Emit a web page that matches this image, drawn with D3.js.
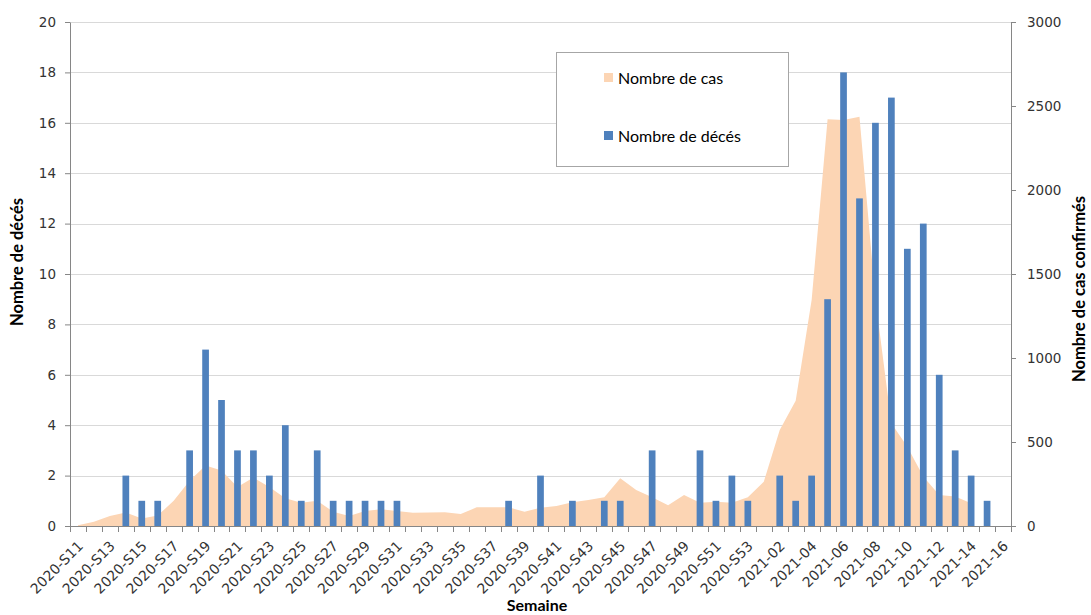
<!DOCTYPE html>
<html>
<head>
<meta charset="utf-8">
<script src="https://cdn.jsdelivr.net/npm/d3@7"></script>
<style>
  html, body { margin: 0; padding: 0; background: #fff; }
  svg { display: block; }
</style>
</head>
<body>
<svg id="chart" width="1091" height="615"></svg>
<script>
const weeks = [
  "2020-S11","2020-S12","2020-S13","2020-S14","2020-S15","2020-S16","2020-S17","2020-S18","2020-S19","2020-S20",
  "2020-S21","2020-S22","2020-S23","2020-S24","2020-S25","2020-S26","2020-S27","2020-S28","2020-S29","2020-S30",
  "2020-S31","2020-S32","2020-S33","2020-S34","2020-S35","2020-S36","2020-S37","2020-S38","2020-S39","2020-S40",
  "2020-S41","2020-S42","2020-S43","2020-S44","2020-S45","2020-S46","2020-S47","2020-S48","2020-S49","2020-S50",
  "2020-S51","2020-S52","2020-S53","2021-01","2021-02","2021-03","2021-04","2021-05","2021-06","2021-07",
  "2021-08","2021-09","2021-10","2021-11","2021-12","2021-13","2021-14","2021-15","2021-16"
];
const deaths = [
  0,0,0,2,1,1,0,3,7,5,
  3,3,2,4,1,3,1,1,1,1,
  1,0,0,0,0,0,0,1,0,2,
  0,1,0,1,1,0,3,0,0,3,
  1,2,1,0,2,1,2,9,18,13,
  16,17,11,12,6,3,2,1,0
];
const cases = [
  5,25,60,80,45,62,150,270,360,330,
  232,288,232,165,139,150,85,60,89,99,
  89,79,80,82,71,111,111,111,85,109,
  119,141,155,171,284,214,171,123,184,139,
  145,139,171,264,571,745,1345,2421,2417,2436,
  1350,611,472,294,184,175,135,null,null
];
const leftTicks = [0,2,4,6,8,10,12,14,16,18,20];
const rightTicks = [0,500,1000,1500,2000,2500,3000];
const legendLabels = ["Nombre de cas", "Nombre de décés"];
const axisTitles = { left: "Nombre de décés", right: "Nombre de cas confirmés", bottom: "Semaine" };

const svg = d3.select("#chart");
const L = 70, R = 1011, T = 22, B = 526;
const axisColor = "#868686", gridColor = "#d9d9d9", textColor = "#333333";
const tickFont = "'DejaVu Sans', Verdana, sans-serif";
const titleFont = "Lato, 'Open Sans', sans-serif";

const x = d3.scaleBand().domain(weeks).range([L, R]).padding(0);
const yL = d3.scaleLinear().domain([0, 20]).range([B, T]);
const yR = d3.scaleLinear().domain([0, 3000]).range([B, T]);
const bw = x.bandwidth();

// gridlines
svg.append("g").selectAll("line").data(leftTicks.filter(d => d > 0)).join("line")
  .attr("x1", L).attr("x2", R)
  .attr("y1", d => Math.round(yL(d)) + 0.5).attr("y2", d => Math.round(yL(d)) + 0.5)
  .attr("stroke", gridColor).attr("stroke-width", 1);

// area (cases)
const area = d3.area()
  .defined(d => d.v !== null)
  .x(d => x(d.w) + bw / 2)
  .y0(yR(0))
  .y1(d => yR(d.v));
svg.append("path")
  .datum(weeks.map((w, i) => ({ w, v: cases[i] })))
  .attr("d", area)
  .attr("fill", "#fcd5b4");

// bars (deaths)
const barW = bw * 0.42;
svg.append("g").selectAll("rect").data(weeks.map((w, i) => ({ w, v: deaths[i] })).filter(d => d.v > 0)).join("rect")
  .attr("x", d => x(d.w) + bw / 2 - barW / 2)
  .attr("width", barW)
  .attr("y", d => yL(d.v))
  .attr("height", d => yL(0) - yL(d.v))
  .attr("fill", "#4f81bd");

// left axis
const gL = svg.append("g").attr("transform", `translate(${L},0)`)
  .call(d3.axisLeft(yL).tickValues(leftTicks).tickFormat(d3.format("d")).tickSize(5).tickSizeOuter(0).tickPadding(9));
// right axis
const gR = svg.append("g").attr("transform", `translate(${R},0)`)
  .call(d3.axisRight(yR).tickValues(rightTicks).tickFormat(d3.format("d")).tickSize(5).tickSizeOuter(0).tickPadding(11));
[gL, gR].forEach(g => {
  g.select(".domain").attr("stroke", axisColor);
  g.selectAll(".tick line").attr("stroke", axisColor);
  g.selectAll(".tick text").attr("fill", textColor)
    .style("font-family", tickFont).style("font-size", "13.5px");
});

// bottom axis: line, boundary ticks, rotated labels
svg.append("line").attr("x1", L).attr("x2", R).attr("y1", B + 0.5).attr("y2", B + 0.5)
  .attr("stroke", axisColor);
const bounds = weeks.map(w => x(w)).concat([x(weeks[weeks.length - 1]) + bw]);
svg.append("g").selectAll("line").data(bounds).join("line")
  .attr("x1", d => Math.round(d) + 0.5).attr("x2", d => Math.round(d) + 0.5)
  .attr("y1", B).attr("y2", B + 6)
  .attr("stroke", axisColor);
const labelWeeks = weeks.filter((w, i) => i % 2 === 0);
svg.append("g").selectAll("text").data(labelWeeks).join("text")
  .attr("transform", d => `translate(${x(d) + bw / 2 + 6},${B + 21}) rotate(-45)`)
  .attr("text-anchor", "end")
  .attr("fill", textColor)
  .style("font-family", tickFont).style("font-size", "14px")
  .text(d => d);

// axis titles
svg.append("text")
  .attr("transform", `translate(23,262) rotate(-90)`)
  .attr("text-anchor", "middle")
  .style("font-family", titleFont).style("font-weight", "bold").style("font-size", "16.5px")
  .attr("fill", "#000").text(axisTitles.left);
svg.append("text")
  .attr("transform", `translate(1085,289) rotate(-90)`)
  .attr("text-anchor", "middle")
  .style("font-family", titleFont).style("font-weight", "bold").style("font-size", "16.5px")
  .attr("fill", "#000").text(axisTitles.right);
svg.append("text")
  .attr("x", 537).attr("y", 611)
  .attr("text-anchor", "middle")
  .style("font-family", titleFont).style("font-weight", "bold").style("font-size", "16px")
  .attr("fill", "#000").text(axisTitles.bottom);

// legend
const lg = svg.append("g");
lg.append("rect").attr("x", 556.5).attr("y", 52.5).attr("width", 232).attr("height", 114)
  .attr("fill", "#fff").attr("stroke", "#a6a6a6");
const legendColors = ["#fcd5b4", "#4f81bd"];
const legendY = [78, 136];
legendLabels.forEach((lab, i) => {
  lg.append("rect").attr("x", 604).attr("y", legendY[i] - 5).attr("width", 9).attr("height", 9)
    .attr("fill", legendColors[i]);
  lg.append("text").attr("x", 618).attr("y", legendY[i]).attr("dy", "0.35em")
    .style("font-family", titleFont).style("font-size", "16px")
    .attr("fill", "#000").text(lab);
});
</script>
</body>
</html>
